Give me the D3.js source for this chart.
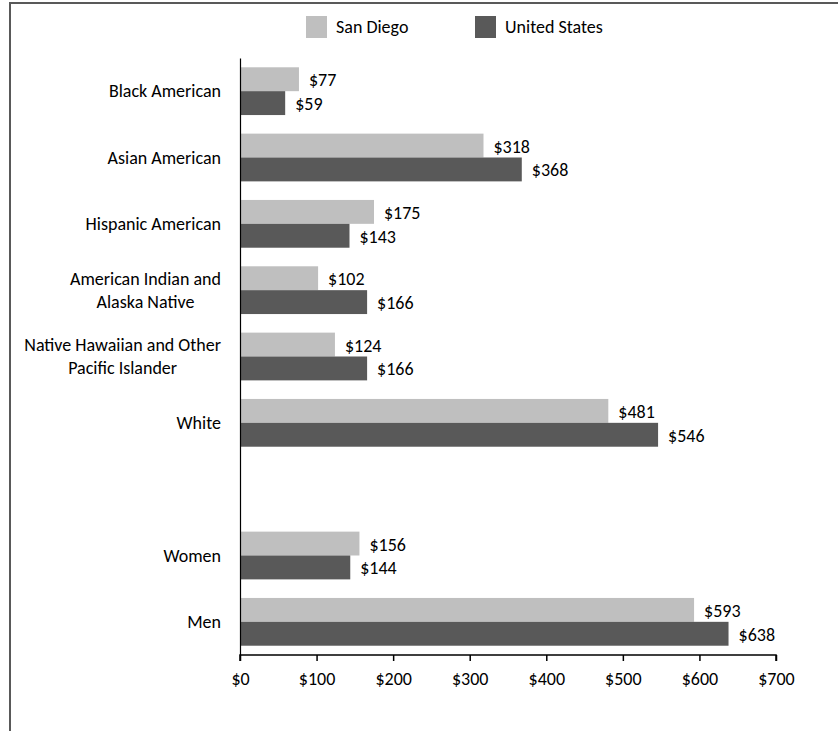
<!DOCTYPE html>
<html>
<head>
<meta charset="utf-8">
<script src="https://cdn.jsdelivr.net/npm/d3@7"></script>
<style>
  body { margin: 0; background: #fff; }
  svg text { font-family: Carlito, Calibri, Lato, sans-serif; font-weight: 300; fill: #000; }
</style>
</head>
<body>
<div id="chart"></div>
<script>
// categories top to bottom; "" is the empty gap row
const categories = [
    ["Black American"],
    ["Asian American"],
    ["Hispanic American"],
    ["American Indian and", "Alaska Native"],
    ["Native Hawaiian and Other", "Pacific Islander"],
    ["White"],
    [""],
    ["Women"],
    ["Men"]
];
const sanDiego = [77, 318, 175, 102, 124, 481, null, 156, 593];
const unitedStates = [59, 368, 143, 166, 166, 546, null, 144, 638];
const seriesNames = ["San Diego", "United States"];
const xTicks = [0, 100, 200, 300, 400, 500, 600, 700];

const width = 838, height = 731;
const colours = ["#bfbfbf", "#595959"];
const fontSize = 18;

const svg = d3.select("#chart").append("svg")
    .attr("width", width)
    .attr("height", height);

// outer frame (top + left edges visible)
svg.append("path")
    .attr("d", `M10,${height} L10,3 L${width},3`)
    .attr("fill", "none")
    .attr("stroke", "#595959")
    .attr("stroke-width", 2);

const keys = categories.map((c, i) => "c" + i);

const x = d3.scaleLinear().domain([0, 700]).range([240, 776]);
const y = d3.scaleBand().domain(keys).range([58, 655])
    .paddingInner(0.28).paddingOuter(0.14);
const ySub = d3.scaleBand().domain([0, 1]).range([0, y.bandwidth()]);

const rows = [];
keys.forEach((k, i) => {
    [sanDiego[i], unitedStates[i]].forEach((v, s) => {
        if (v != null) rows.push({ key: k, series: s, value: v });
    });
});

// bars
svg.append("g").selectAll("rect").data(rows).enter().append("rect")
    .attr("x", x(0))
    .attr("y", d => y(d.key) + ySub(d.series))
    .attr("width", d => x(d.value) - x(0))
    .attr("height", ySub.bandwidth())
    .attr("fill", d => colours[d.series]);

// value labels
svg.append("g").selectAll("text").data(rows).enter().append("text")
    .attr("x", d => x(d.value) + 10)
    .attr("y", d => y(d.key) + ySub(d.series) + ySub.bandwidth() / 2 + 1)
    .attr("dominant-baseline", "central")
    .style("font-size", fontSize + "px")
    .text(d => "$" + d.value);

// x axis
const xAxis = d3.axisBottom(x).tickValues(xTicks)
    .tickSize(6).tickPadding(11)
    .tickFormat(d => "$" + d);
const xAxisG = svg.append("g")
    .attr("transform", "translate(0,655)")
    .call(xAxis);
xAxisG.select(".domain").attr("stroke", "#000").attr("stroke-width", 1.5)
    .attr("d", `M${x(0)},6V0H${x(700)}V6`);
xAxisG.selectAll(".tick line").attr("stroke", "#000").attr("stroke-width", 1.5);
xAxisG.selectAll(".tick text")
    .style("font-size", fontSize + "px")
    .style("font-family", "Carlito, Calibri, Lato, sans-serif")
    .style("font-weight", 300)
    .attr("fill", "#000");

// y axis line
const yAxis = d3.axisLeft(y).tickSize(0).tickFormat("");
const yAxisG = svg.append("g")
    .attr("transform", `translate(${x(0)},0)`)
    .call(yAxis);
yAxisG.select(".domain").attr("stroke", "#000").attr("stroke-width", 1.2);

// category labels, wrapped lines centred on each other, right edge at 221
const labelRight = 221;
const lineHeight = 23;
keys.forEach((k, i) => {
    const lines = categories[i];
    const g = svg.append("g");
    const texts = lines.map((ln, j) => g.append("text")
        .attr("y", y(k) + y.bandwidth() / 2 + (j - (lines.length - 1) / 2) * lineHeight)
        .attr("dominant-baseline", "central")
        .attr("text-anchor", "middle")
        .style("font-size", fontSize + "px")
        .text(ln));
    const maxW = d3.max(texts, t => t.node().getComputedTextLength());
    texts.forEach(t => t.attr("x", labelRight - maxW / 2));
});

// legend
const legendX = [306, 475];
seriesNames.forEach((name, s) => {
    svg.append("rect")
        .attr("x", legendX[s]).attr("y", 16)
        .attr("width", 21).attr("height", 22)
        .attr("fill", colours[s]);
    svg.append("text")
        .attr("x", legendX[s] + 30).attr("y", 27)
        .attr("dominant-baseline", "central")
        .style("font-size", fontSize + "px")
        .text(name);
});
</script>
</body>
</html>
